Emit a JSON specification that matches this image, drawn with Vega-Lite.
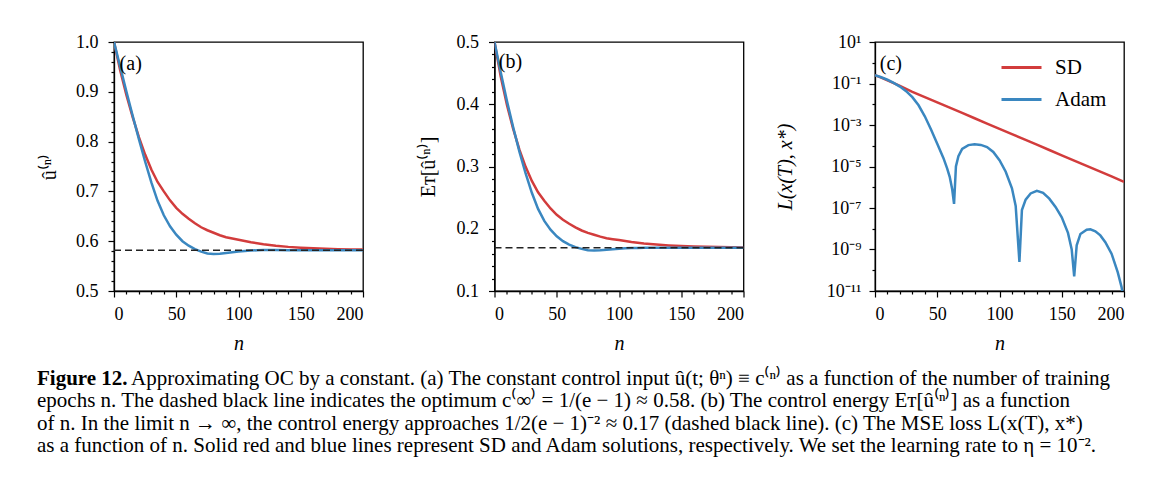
{
  "$schema": "https://vega.github.io/schema/vega-lite/v6.json",
  "padding": {"left": 37, "top": 32, "right": 5, "bottom": 5},
  "background": "white",
  "datasets": {
    "a": [
      {"n": 0, "v": 1.0, "s": "SD"}, {"n": 5, "v": 0.943, "s": "SD"}, {"n": 10, "v": 0.893, "s": "SD"}, {"n": 15, "v": 0.849, "s": "SD"},
      {"n": 20, "v": 0.809, "s": "SD"}, {"n": 25, "v": 0.774, "s": "SD"}, {"n": 30, "v": 0.744, "s": "SD"}, {"n": 35, "v": 0.719, "s": "SD"},
      {"n": 40, "v": 0.700, "s": "SD"}, {"n": 45, "v": 0.682, "s": "SD"}, {"n": 50, "v": 0.667, "s": "SD"}, {"n": 55, "v": 0.655, "s": "SD"},
      {"n": 60, "v": 0.645, "s": "SD"}, {"n": 65, "v": 0.636, "s": "SD"}, {"n": 70, "v": 0.628, "s": "SD"}, {"n": 75, "v": 0.622, "s": "SD"},
      {"n": 80, "v": 0.617, "s": "SD"}, {"n": 85, "v": 0.612, "s": "SD"}, {"n": 90, "v": 0.608, "s": "SD"}, {"n": 95, "v": 0.6055, "s": "SD"},
      {"n": 100, "v": 0.603, "s": "SD"}, {"n": 110, "v": 0.598, "s": "SD"}, {"n": 120, "v": 0.594, "s": "SD"}, {"n": 130, "v": 0.591, "s": "SD"},
      {"n": 140, "v": 0.5886, "s": "SD"}, {"n": 150, "v": 0.5869, "s": "SD"}, {"n": 160, "v": 0.5857, "s": "SD"}, {"n": 170, "v": 0.5847, "s": "SD"},
      {"n": 180, "v": 0.584, "s": "SD"}, {"n": 190, "v": 0.5835, "s": "SD"}, {"n": 200, "v": 0.5831, "s": "SD"},
      {"n": 0, "v": 1.0, "s": "Adam"}, {"n": 5, "v": 0.95, "s": "Adam"}, {"n": 10, "v": 0.90, "s": "Adam"}, {"n": 15, "v": 0.852, "s": "Adam"},
      {"n": 20, "v": 0.805, "s": "Adam"}, {"n": 25, "v": 0.76, "s": "Adam"}, {"n": 30, "v": 0.718, "s": "Adam"}, {"n": 35, "v": 0.681, "s": "Adam"},
      {"n": 40, "v": 0.652, "s": "Adam"}, {"n": 45, "v": 0.63, "s": "Adam"}, {"n": 50, "v": 0.613, "s": "Adam"}, {"n": 55, "v": 0.6, "s": "Adam"},
      {"n": 60, "v": 0.591, "s": "Adam"}, {"n": 65, "v": 0.584, "s": "Adam"}, {"n": 70, "v": 0.579, "s": "Adam"}, {"n": 75, "v": 0.5755, "s": "Adam"},
      {"n": 80, "v": 0.5745, "s": "Adam"}, {"n": 85, "v": 0.575, "s": "Adam"}, {"n": 90, "v": 0.5765, "s": "Adam"}, {"n": 95, "v": 0.578, "s": "Adam"},
      {"n": 100, "v": 0.5795, "s": "Adam"}, {"n": 105, "v": 0.5805, "s": "Adam"}, {"n": 110, "v": 0.5812, "s": "Adam"}, {"n": 115, "v": 0.5818, "s": "Adam"},
      {"n": 120, "v": 0.5821, "s": "Adam"}, {"n": 130, "v": 0.5822, "s": "Adam"}, {"n": 140, "v": 0.582, "s": "Adam"}, {"n": 150, "v": 0.582, "s": "Adam"},
      {"n": 160, "v": 0.582, "s": "Adam"}, {"n": 170, "v": 0.582, "s": "Adam"}, {"n": 180, "v": 0.582, "s": "Adam"}, {"n": 190, "v": 0.582, "s": "Adam"},
      {"n": 200, "v": 0.582, "s": "Adam"}
    ],
    "b": [
      {"n": 0, "v": 0.5, "s": "SD"}, {"n": 5, "v": 0.4446, "s": "SD"}, {"n": 10, "v": 0.3987, "s": "SD"}, {"n": 15, "v": 0.3604, "s": "SD"},
      {"n": 20, "v": 0.3272, "s": "SD"}, {"n": 25, "v": 0.2995, "s": "SD"}, {"n": 30, "v": 0.2768, "s": "SD"}, {"n": 35, "v": 0.2585, "s": "SD"},
      {"n": 40, "v": 0.245, "s": "SD"}, {"n": 45, "v": 0.2326, "s": "SD"}, {"n": 50, "v": 0.2224, "s": "SD"}, {"n": 55, "v": 0.2145, "s": "SD"},
      {"n": 60, "v": 0.208, "s": "SD"}, {"n": 65, "v": 0.2022, "s": "SD"}, {"n": 70, "v": 0.1972, "s": "SD"}, {"n": 75, "v": 0.1934, "s": "SD"},
      {"n": 80, "v": 0.1903, "s": "SD"}, {"n": 85, "v": 0.1873, "s": "SD"}, {"n": 90, "v": 0.1848, "s": "SD"}, {"n": 95, "v": 0.1833, "s": "SD"},
      {"n": 100, "v": 0.1818, "s": "SD"}, {"n": 110, "v": 0.1788, "s": "SD"}, {"n": 120, "v": 0.1764, "s": "SD"}, {"n": 130, "v": 0.1746, "s": "SD"},
      {"n": 140, "v": 0.1732, "s": "SD"}, {"n": 150, "v": 0.1722, "s": "SD"}, {"n": 160, "v": 0.1715, "s": "SD"}, {"n": 170, "v": 0.1709, "s": "SD"},
      {"n": 180, "v": 0.1705, "s": "SD"}, {"n": 190, "v": 0.1702, "s": "SD"}, {"n": 200, "v": 0.17, "s": "SD"},
      {"n": 0, "v": 0.5, "s": "Adam"}, {"n": 5, "v": 0.45125, "s": "Adam"}, {"n": 10, "v": 0.405, "s": "Adam"}, {"n": 15, "v": 0.36295, "s": "Adam"},
      {"n": 20, "v": 0.32401, "s": "Adam"}, {"n": 25, "v": 0.2888, "s": "Adam"}, {"n": 30, "v": 0.25776, "s": "Adam"}, {"n": 35, "v": 0.23188, "s": "Adam"},
      {"n": 40, "v": 0.21255, "s": "Adam"}, {"n": 45, "v": 0.19845, "s": "Adam"}, {"n": 50, "v": 0.18788, "s": "Adam"}, {"n": 55, "v": 0.18, "s": "Adam"},
      {"n": 60, "v": 0.17464, "s": "Adam"}, {"n": 65, "v": 0.17053, "s": "Adam"}, {"n": 70, "v": 0.16762, "s": "Adam"}, {"n": 75, "v": 0.1656, "s": "Adam"},
      {"n": 80, "v": 0.16503, "s": "Adam"}, {"n": 85, "v": 0.16531, "s": "Adam"}, {"n": 90, "v": 0.16618, "s": "Adam"}, {"n": 95, "v": 0.16704, "s": "Adam"},
      {"n": 100, "v": 0.16791, "s": "Adam"}, {"n": 105, "v": 0.16849, "s": "Adam"}, {"n": 110, "v": 0.1689, "s": "Adam"}, {"n": 115, "v": 0.16924, "s": "Adam"},
      {"n": 120, "v": 0.16942, "s": "Adam"}, {"n": 130, "v": 0.16948, "s": "Adam"}, {"n": 140, "v": 0.16936, "s": "Adam"}, {"n": 150, "v": 0.16936, "s": "Adam"},
      {"n": 160, "v": 0.16936, "s": "Adam"}, {"n": 170, "v": 0.16936, "s": "Adam"}, {"n": 180, "v": 0.16936, "s": "Adam"}, {"n": 190, "v": 0.16936, "s": "Adam"},
      {"n": 200, "v": 0.16936, "s": "Adam"}
    ],
    "c": [
      {"n": 0, "v": 0.2512, "s": "SD"}, {"n": 5, "v": 0.1905, "s": "SD"}, {"n": 10, "v": 0.1413, "s": "SD"}, {"n": 15, "v": 0.1047, "s": "SD"},
      {"n": 20, "v": 0.07586, "s": "SD"}, {"n": 25, "v": 0.05495, "s": "SD"}, {"n": 30, "v": 0.03981, "s": "SD"}, {"n": 40, "v": 0.02213, "s": "SD"},
      {"n": 50, "v": 0.0123, "s": "SD"}, {"n": 60, "v": 0.006839, "s": "SD"}, {"n": 70, "v": 0.003802, "s": "SD"}, {"n": 80, "v": 0.002113, "s": "SD"},
      {"n": 90, "v": 0.001175, "s": "SD"}, {"n": 100, "v": 0.0006531, "s": "SD"}, {"n": 110, "v": 0.0003631, "s": "SD"}, {"n": 120, "v": 0.0002018, "s": "SD"},
      {"n": 130, "v": 0.0001122, "s": "SD"}, {"n": 140, "v": 6.237e-5, "s": "SD"}, {"n": 150, "v": 3.467e-5, "s": "SD"}, {"n": 160, "v": 1.928e-5, "s": "SD"},
      {"n": 170, "v": 1.072e-5, "s": "SD"}, {"n": 180, "v": 5.957e-6, "s": "SD"}, {"n": 190, "v": 3.311e-6, "s": "SD"}, {"n": 200, "v": 1.841e-6, "s": "SD"},
      {"n": 0, "v": 0.2512, "s": "Adam"}, {"n": 5, "v": 0.1995, "s": "Adam"}, {"n": 10, "v": 0.1514, "s": "Adam"}, {"n": 15, "v": 0.1072, "s": "Adam"},
      {"n": 20, "v": 0.07079, "s": "Adam"}, {"n": 25, "v": 0.04266, "s": "Adam"}, {"n": 30, "v": 0.02188, "s": "Adam"}, {"n": 35, "v": 0.008913, "s": "Adam"},
      {"n": 40, "v": 0.00263, "s": "Adam"}, {"n": 45, "v": 0.0006026, "s": "Adam"}, {"n": 50, "v": 0.0001259, "s": "Adam"}, {"n": 55, "v": 2.512e-5, "s": "Adam"},
      {"n": 58, "v": 7.943e-6, "s": "Adam"}, {"n": 60, "v": 3.162e-6, "s": "Adam"}, {"n": 62, "v": 7.943e-7, "s": "Adam"}, {"n": 63.5, "v": 1.585e-7, "s": "Adam"},
      {"n": 65, "v": 1.0e-5, "s": "Adam"}, {"n": 67, "v": 3.162e-5, "s": "Adam"}, {"n": 70, "v": 7.079e-5, "s": "Adam"}, {"n": 75, "v": 0.0001072, "s": "Adam"},
      {"n": 80, "v": 0.0001175, "s": "Adam"}, {"n": 85, "v": 0.0001096, "s": "Adam"}, {"n": 90, "v": 8.71e-5, "s": "Adam"}, {"n": 95, "v": 5.012e-5, "s": "Adam"},
      {"n": 100, "v": 1.995e-5, "s": "Adam"}, {"n": 105, "v": 5.623e-6, "s": "Adam"}, {"n": 110, "v": 8.913e-7, "s": "Adam"}, {"n": 113, "v": 1.259e-7, "s": "Adam"},
      {"n": 116, "v": 2.512e-10, "s": "Adam"}, {"n": 118, "v": 7.943e-8, "s": "Adam"}, {"n": 121, "v": 2.512e-7, "s": "Adam"}, {"n": 125, "v": 5.012e-7, "s": "Adam"},
      {"n": 130, "v": 6.761e-7, "s": "Adam"}, {"n": 135, "v": 5.37e-7, "s": "Adam"}, {"n": 140, "v": 2.818e-7, "s": "Adam"}, {"n": 145, "v": 1.122e-7, "s": "Adam"},
      {"n": 150, "v": 3.548e-8, "s": "Adam"}, {"n": 155, "v": 6.31e-9, "s": "Adam"}, {"n": 158, "v": 1.0e-9, "s": "Adam"}, {"n": 160, "v": 5.012e-11, "s": "Adam"},
      {"n": 162, "v": 1.585e-9, "s": "Adam"}, {"n": 165, "v": 5.623e-9, "s": "Adam"}, {"n": 170, "v": 8.913e-9, "s": "Adam"}, {"n": 173, "v": 9.333e-9, "s": "Adam"},
      {"n": 177, "v": 7.586e-9, "s": "Adam"}, {"n": 181, "v": 4.786e-9, "s": "Adam"}, {"n": 185, "v": 2.239e-9, "s": "Adam"}, {"n": 190, "v": 6.31e-10, "s": "Adam"},
      {"n": 195, "v": 7.943e-11, "s": "Adam"}, {"n": 198, "v": 1.585e-11, "s": "Adam"}, {"n": 200, "v": 3.162e-12, "s": "Adam"}
    ]
  },
  "title": {
    "text": "Figure 12.",
    "orient": "bottom", "anchor": "start", "frame": "group",
    "font": "Liberation Serif", "fontSize": 21, "fontWeight": "bold", "color": "black",
    "offset": -88, "dx": -77
  },
  "vconcat": [
    {
      "title": {
        "text": [
          "epochs n. The dashed black line indicates the optimum c⁽∞⁾ = 1/(e − 1) ≈ 0.58. (b) The control energy Eᴛ[û⁽ⁿ⁾] as a function",
          "of n. In the limit n → ∞, the control energy approaches 1/2(e − 1)⁻² ≈ 0.17 (dashed black line). (c) The MSE loss L(x(T), x*)",
          "as a function of n. Solid red and blue lines represent SD and Adam solutions, respectively. We set the learning rate to η = 10⁻²."
        ],
        "orient": "bottom", "anchor": "start", "frame": "group",
        "font": "Liberation Serif", "fontSize": 21, "fontWeight": "normal", "color": "black",
        "lineHeight": 22.5, "offset": 1.5, "dx": -77
      },
      "vconcat": [
        {
          "title": {
            "text": "Approximating OC by a constant. (a) The constant control input û(t; θⁿ) ≡ c⁽ⁿ⁾ as a function of the number of training",
            "orient": "bottom", "anchor": "start", "frame": "group",
            "font": "Liberation Serif", "fontSize": 21, "fontWeight": "normal", "color": "black",
            "offset": 14, "dx": 17
          },
          "hconcat": [
            {
              "width": 249, "height": 249,
              "data": {"name": "a"},
              "layer": [
                {
                  "mark": {"type": "line", "strokeWidth": 2.5, "clip": true},
                  "encoding": {
                    "x": {"field": "n", "type": "quantitative", "scale": {"domain": [0, 200], "nice": false, "zero": false},
                          "axis": {"values": [0, 50, 100, 150, 200], "title": "n", "tickSize": 6, "labelPadding": 8, "titlePadding": 10}},
                    "y": {"field": "v", "type": "quantitative", "scale": {"domain": [0.5, 1.0], "nice": false, "zero": false},
                          "axis": {"values": [0.5, 0.6, 0.7, 0.8, 0.9, 1.0], "format": ".1f", "title": "û⁽ⁿ⁾", "titleFontStyle": "normal", "tickSize": 6, "labelPadding": 10, "titlePadding": 16}},
                    "color": {"field": "s", "type": "nominal", "scale": {"domain": ["SD", "Adam"], "range": ["#d23c3c", "#3a87c0"]}, "legend": null}
                  }
                },
                {
                  "data": {"values": [{"c": 0.582}]},
                  "mark": {"type": "rule", "strokeDash": [7, 4], "color": "#222222", "strokeWidth": 1.5},
                  "encoding": {"y": {"field": "c", "type": "quantitative", "axis": null}}
                },
                {
                  "data": {"values": [{"label": "(a)", "n": 4.5, "v": 0.956}]},
                  "mark": {"type": "text", "align": "left", "baseline": "middle", "font": "Liberation Serif", "fontSize": 20, "color": "black"},
                  "encoding": {
                    "x": {"field": "n", "type": "quantitative", "axis": null},
                    "y": {"field": "v", "type": "quantitative", "axis": null},
                    "text": {"field": "label"}
                  }
                },
                {
                  "mark": {"type": "point", "opacity": 0},
                  "encoding": {
                    "x": {"field": "n", "type": "quantitative", "axis": {"orient": "bottom", "values": [10, 20, 30, 40, 60, 70, 80, 90, 110, 120, 130, 140, 160, 170, 180, 190], "labels": false, "domain": false, "tickSize": 3, "title": null}},
                    "y": {"field": "v", "type": "quantitative", "axis": {"orient": "left", "values": [0.52, 0.54, 0.56, 0.58, 0.62, 0.64, 0.66, 0.68, 0.72, 0.74, 0.76, 0.78, 0.82, 0.84, 0.86, 0.88, 0.92, 0.94, 0.96, 0.98], "labels": false, "domain": false, "tickSize": 3, "title": null}}
                  }
                }
              ],
              "resolve": {"axis": {"x": "independent", "y": "independent"}}
            },
            {
              "width": 249, "height": 249,
              "data": {"name": "b"},
              "layer": [
                {
                  "mark": {"type": "line", "strokeWidth": 2.5, "clip": true},
                  "encoding": {
                    "x": {"field": "n", "type": "quantitative", "scale": {"domain": [0, 200], "nice": false, "zero": false},
                          "axis": {"values": [0, 50, 100, 150, 200], "title": "n", "tickSize": 6, "labelPadding": 8, "titlePadding": 10}},
                    "y": {"field": "v", "type": "quantitative", "scale": {"domain": [0.1, 0.5], "nice": false, "zero": false},
                          "axis": {"values": [0.1, 0.2, 0.3, 0.4, 0.5], "format": ".1f", "title": "Eᴛ[û⁽ⁿ⁾]", "titleFontStyle": "normal", "tickSize": 6, "labelPadding": 10, "titlePadding": 18}},
                    "color": {"field": "s", "type": "nominal", "scale": {"domain": ["SD", "Adam"], "range": ["#d23c3c", "#3a87c0"]}, "legend": null}
                  }
                },
                {
                  "data": {"values": [{"c": 0.1694}]},
                  "mark": {"type": "rule", "strokeDash": [7, 4], "color": "#222222", "strokeWidth": 1.5},
                  "encoding": {"y": {"field": "c", "type": "quantitative", "axis": null}}
                },
                {
                  "data": {"values": [{"label": "(b)", "n": 3.5, "v": 0.468}]},
                  "mark": {"type": "text", "align": "left", "baseline": "middle", "font": "Liberation Serif", "fontSize": 20, "color": "black"},
                  "encoding": {
                    "x": {"field": "n", "type": "quantitative", "axis": null},
                    "y": {"field": "v", "type": "quantitative", "axis": null},
                    "text": {"field": "label"}
                  }
                },
                {
                  "mark": {"type": "point", "opacity": 0},
                  "encoding": {
                    "x": {"field": "n", "type": "quantitative", "axis": {"orient": "bottom", "values": [10, 20, 30, 40, 60, 70, 80, 90, 110, 120, 130, 140, 160, 170, 180, 190], "labels": false, "domain": false, "tickSize": 3, "title": null}},
                    "y": {"field": "v", "type": "quantitative", "axis": {"orient": "left", "values": [0.12, 0.14, 0.16, 0.18, 0.22, 0.24, 0.26, 0.28, 0.32, 0.34, 0.36, 0.38, 0.42, 0.44, 0.46, 0.48], "labels": false, "domain": false, "tickSize": 3, "title": null}}
                  }
                }
              ],
              "resolve": {"axis": {"x": "independent", "y": "independent"}}
            },
            {
              "width": 249, "height": 249,
              "data": {"name": "c"},
              "layer": [
                {
                  "mark": {"type": "line", "strokeWidth": 2.5, "clip": true},
                  "encoding": {
                    "x": {"field": "n", "type": "quantitative", "scale": {"domain": [0, 200], "nice": false, "zero": false},
                          "axis": {"values": [0, 50, 100, 150, 200], "title": "n", "tickSize": 6, "labelPadding": 8, "titlePadding": 10}},
                    "y": {"field": "v", "type": "quantitative", "scale": {"type": "log", "domain": [1e-11, 10], "nice": false},
                          "axis": {"values": [10, 0.1, 0.001, 1e-5, 1e-7, 1e-9, 1e-11], "title": "L(x(T), x*)", "tickSize": 6, "labelPadding": 8, "titlePadding": 31,
                                   "labelExpr": "round(log(datum.value)/LN10) == 1 ? '10¹' : round(log(datum.value)/LN10) == -1 ? '10⁻¹' : round(log(datum.value)/LN10) == -3 ? '10⁻³' : round(log(datum.value)/LN10) == -5 ? '10⁻⁵' : round(log(datum.value)/LN10) == -7 ? '10⁻⁷' : round(log(datum.value)/LN10) == -9 ? '10⁻⁹' : '10⁻¹¹'"}},
                    "color": {"field": "s", "type": "nominal", "scale": {"domain": ["SD", "Adam"], "range": ["#d23c3c", "#3a87c0"]},
                              "legend": {"orient": "none", "legendX": 125, "legendY": 4, "title": null, "symbolType": "stroke", "symbolSize": 1600, "symbolStrokeWidth": 3, "labelFont": "Liberation Serif", "labelFontSize": 21, "labelColor": "black", "labelOffset": 12, "rowPadding": -12}}
                  }
                },
                {
                  "data": {"values": [{"label": "(c)", "n": 3.8, "v": 0.9}]},
                  "mark": {"type": "text", "align": "left", "baseline": "middle", "font": "Liberation Serif", "fontSize": 20, "color": "black"},
                  "encoding": {
                    "x": {"field": "n", "type": "quantitative", "axis": null},
                    "y": {"field": "v", "type": "quantitative", "axis": null},
                    "text": {"field": "label"}
                  }
                },
                {
                  "mark": {"type": "point", "opacity": 0},
                  "encoding": {
                    "x": {"field": "n", "type": "quantitative", "axis": {"orient": "bottom", "values": [10, 20, 30, 40, 60, 70, 80, 90, 110, 120, 130, 140, 160, 170, 180, 190], "labels": false, "domain": false, "tickSize": 3, "title": null}},
                    "y": {"field": "v", "type": "quantitative", "axis": {"orient": "left", "values": [1, 0.01, 0.0001, 1e-6, 1e-8, 1e-10], "labels": false, "domain": false, "tickSize": 3, "title": null}}
                  }
                }
              ],
              "resolve": {"axis": {"x": "independent", "y": "independent"}}
            }
          ],
          "spacing": 131.5,
          "bounds": "flush",
          "resolve": {"scale": {"color": "independent"}}
        }
      ]
    }
  ],
  "config": {
    "font": "Liberation Serif",
    "view": {"stroke": "black", "strokeWidth": 1.3},
    "axis": {
      "grid": false,
      "labelFont": "Liberation Serif", "labelFontSize": 18, "labelColor": "black",
      "titleFont": "Liberation Serif", "titleFontSize": 20, "titleFontWeight": "normal", "titleFontStyle": "italic", "titleColor": "black",
      "domainColor": "black", "domainWidth": 1.3, "tickColor": "black", "tickWidth": 1.2
    }
  }
}
